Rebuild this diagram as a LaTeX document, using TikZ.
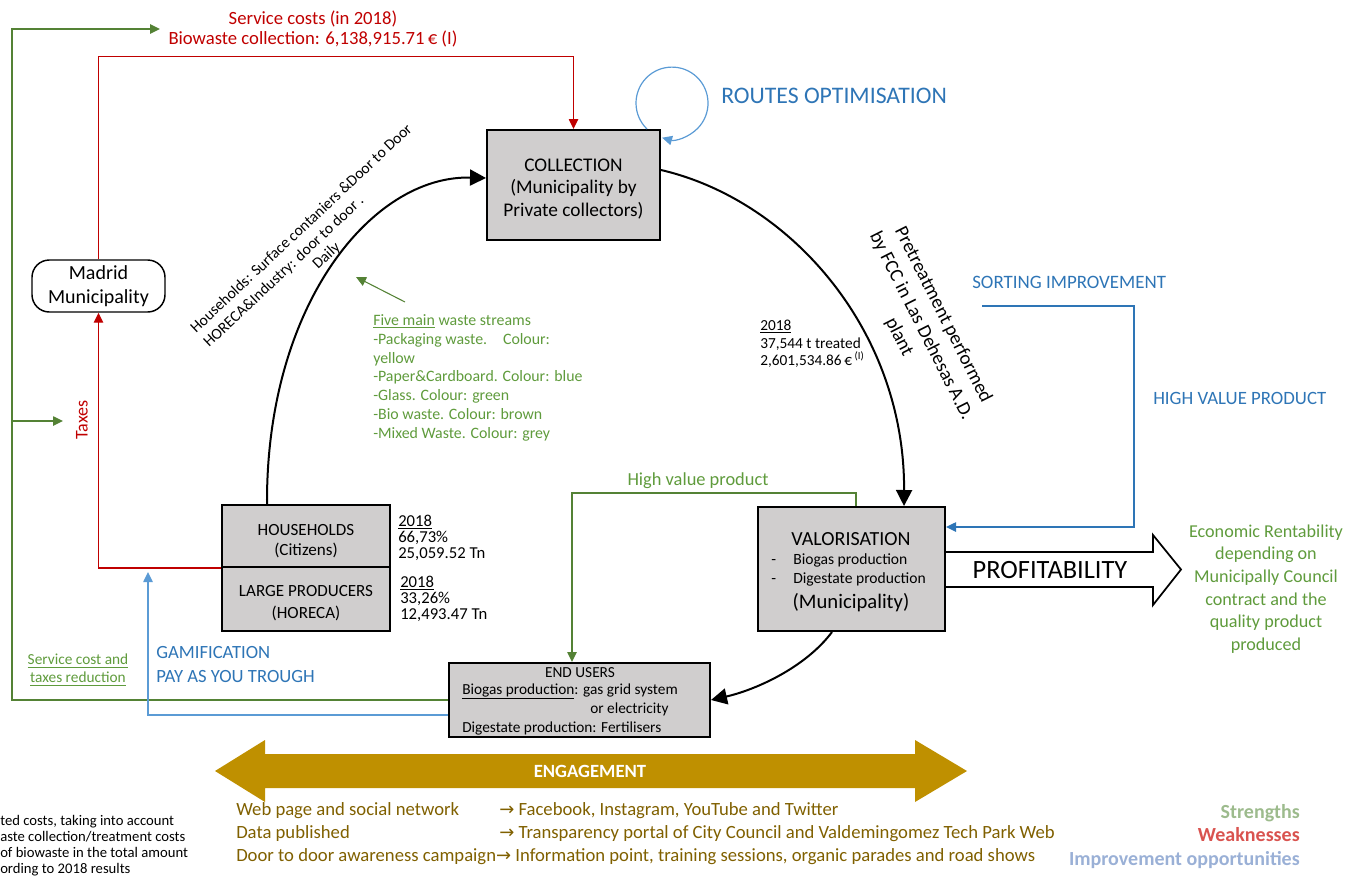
\documentclass[tikz,border=0pt]{standalone}
\usepackage{fontspec}
\setmainfont{Carlito}
\newfontfamily\symf{DejaVu Sans}
\usetikzlibrary{arrows.meta,calc}
\definecolor{boxgray}{HTML}{D0CECE}
\definecolor{redL}{HTML}{C00000}
\definecolor{greenL}{HTML}{548235}
\definecolor{greenT}{HTML}{5F9B3C}
\definecolor{blueT}{HTML}{2E75B6}
\definecolor{blueL}{HTML}{5B9BD5}
\definecolor{goldF}{HTML}{BF9000}
\definecolor{goldT}{HTML}{806000}
\definecolor{legG}{HTML}{9DBB8D}
\definecolor{legR}{HTML}{D9534F}
\definecolor{legB}{HTML}{9AB0D6}
\newcommand\fsz[2]{\fontsize{#1}{#2}\selectfont}
\begin{document}
\begin{tikzpicture}[x=0.75pt,y=-0.75pt,
  box/.style={draw=black, line width=1.5pt, fill=boxgray, inner sep=0pt, align=center},
  bigarr/.style={line width=1.5pt, -{Triangle[length=12pt,width=12pt]}},
  carr/.style={line width=1.1pt, -{Triangle[length=7.5pt,width=7pt]}},
  txt/.style={inner sep=0pt}]
\useasboundingbox (0,0) rectangle (1363,878);

% ---------- boxes ----------
\node[box, minimum width=173*0.75pt, minimum height=110*0.75pt] (coll) at (573.5,185) {};
\node[txt, align=center, font=\fsz{14.5}{17}] (collt) at (573.5,189) {COLLECTION\\(Municipality by\\Private collectors)};
\node[box, minimum width=168*0.75pt, minimum height=62*0.75pt] (hh) at (306,536) {};
\node[txt, align=center, font=\fsz{12.8}{15}] (hht) at (306,541) {HOUSEHOLDS\\(Citizens)};
\node[box, minimum width=168*0.75pt, minimum height=64*0.75pt] (lp) at (306,599) {};
\node[txt, align=center, font=\fsz{12.8}{16}] (lpt) at (306,603) {LARGE PRODUCERS\\(HORECA)};
\node[box, minimum width=187*0.75pt, minimum height=124*0.75pt] (valo) at (851.5,569) {};
\node[box, minimum width=261*0.75pt, minimum height=74*0.75pt] (eu) at (579.5,700) {};
\node[draw=black, line width=1.1pt, rounded corners=13pt, minimum width=133*0.75pt, minimum height=52*0.75pt, align=center, inner sep=0pt, font=\fsz{15}{18}] (mad) at (98.5,286) {Madrid\\Municipality};

% valorisation text
\node[txt, font=\fsz{15}{18}] (vt1) at (851,539) {VALORISATION};
\node[txt, anchor=mid west, font=\fsz{11.7}{14}] (vd1) at (771,561) {-};
\node[txt, anchor=mid west, font=\fsz{11.7}{14}] (vt2) at (793,561) {Biogas production};
\node[txt, anchor=mid west, font=\fsz{11.7}{14}] (vd2) at (771,580) {-};
\node[txt, anchor=mid west, font=\fsz{11.7}{14}] (vt3) at (793,580) {Digestate production};
\node[txt, font=\fsz{15.5}{18}] (vt4) at (851,603) {(Municipality)};

% end users text
\node[txt, font=\fsz{11.5}{14}] (e1) at (580,673) {END USERS};
\node[txt, anchor=mid west, font=\fsz{11.5}{14}] (e2) at (462,691) {\underline{Biogas production}: gas grid system};
\node[txt, anchor=mid west, font=\fsz{11.5}{14}] (e3) at (590,710) {or electricity};
\node[txt, anchor=mid west, font=\fsz{11.5}{14}] (e4) at (462,729) {Digestate production: Fertilisers};

% 2018 figures
\node[txt, anchor=north west, align=left, font=\fsz{12.5}{12}] (f1) at (398,515) {\underline{2018}\\66,73\%\\25,059.52 Tn};
\node[txt, anchor=north west, align=left, font=\fsz{12.5}{12}] (f2) at (400,576) {\underline{2018}\\33,26\%\\12,493.47 Tn};
\node[txt, anchor=north west, align=left, font=\fsz{11.5}{13}] (f3) at (760,320) {\underline{2018}\\37,544 t treated\\2,601,534.86\,€\,\textsuperscript{(I)}};

% ---------- main cycle ----------
\draw[bigarr] ($(hh.north west)+(46,0)$) .. controls (266,305) and (372,175) .. ($(coll.west)+(0,-7)$);
\draw[bigarr] ($(coll.east)+(0,-15)$) .. controls (790,200) and (905,330) .. ($(valo.north west)+(147,0)$);
\draw[bigarr] ($(valo.south west)+(75,0)$) .. controls (805,668) and (755,690) .. (eu.east);

% routes optimisation loop
\draw[blueL, carr, line width=0.9pt] ($(coll.north west)+(161,0)$) arc[start angle=134, end angle=466, radius=36];
\node[txt, anchor=mid west, text=blueT, font=\fsz{17.8}{20}] (ro) at (721,100) {ROUTES OPTIMISATION};

% red money flows
\draw[redL, carr] (hh.south west) -| (mad.south);
\draw[redL, carr] (mad.north) -- ++(0,-203) -| (coll.north);
\node[txt, text=redL, align=center, font=\fsz{14}{14.3}] (sc) at (313,29) {Service costs (in 2018)\\Biowaste collection: 6,138,915.71\,€ (I)};
\node[txt, text=redL, rotate=90, font=\fsz{13.5}{16}] (tax) at (82,420) {Taxes};

% green outer loop
\coordinate (gTop) at (160,29);
\coordinate (gTax) at (63,421);
\coordinate (gCorner) at (12,421);
\draw[greenL, carr] (eu.west) -| (gCorner) |- (gTop);
\draw[greenL, carr] (gCorner) -- (gTax);
\node[txt, text=greenT, align=center, font=\fsz{11.5}{13.5}] (scr) at (78,670) {\underline{Service cost and}\\\underline{taxes reduction}};

% blue gamification
\coordinate (bUp) at (148,572);
\draw[blueL, carr] ($(eu.west)+(0,15)$) -| (bUp);
\node[txt, anchor=mid west, text=blueT, font=\fsz{14}{16}] (g1) at (156,655) {GAMIFICATION};
\node[txt, anchor=mid west, text=blueT, font=\fsz{14}{16}] (g2) at (156,679) {PAY AS YOU TROUGH};

% high value product (green)
\draw[greenL, carr] ($(valo.north west)+(99,0)$) -- ++(0,-13) -| ($(eu.north west)+(124,0)$);
\node[txt, text=greenT, font=\fsz{13.8}{16}] (hvp) at (698,481) {High value product};

% sorting improvement (blue)
\coordinate (si) at (982,306);
\draw[blueT, carr] (si) -- ++(152,0) |- ($(valo.east)+(0,-42)$);
\node[txt, anchor=mid west, text=blueT, font=\fsz{14.2}{16}] (sit) at (972,285) {SORTING IMPROVEMENT};
\node[txt, anchor=mid west, text=blueT, font=\fsz{14.1}{16}] (hvpt) at (1153,401) {HIGH VALUE PRODUCT};

% rotated labels
\node[txt, rotate=43.2, anchor=base west, font=\fsz{11.7}{14}] (r1) at (196,334) {Households: Surface contaniers \&Door to Door};
\node[txt, rotate=43.2, anchor=base west, font=\fsz{11.7}{14}] (r2) at (209,348) {HORECA\&Industry: door to door .};
\node[txt, rotate=43.2, anchor=base west, font=\fsz{11.7}{14}] (r3) at (318,270) {Daily};
\node[txt, rotate=-63.2, align=center, font=\fsz{14.5}{18.5}] (pt) at (921,326) {Pretreatment performed\\by FCC in Las Dehesas A.D.\\plant};

% five main waste streams
\coordinate (fmA) at (405,302);
\coordinate (fmB) at (356,277);
\draw[greenL, line width=0.8pt, -{Triangle[length=7.5pt,width=7pt]}] (fmA) -- (fmB);
\node[txt, anchor=north west, align=left, text=greenT, font=\fsz{11.9}{14.2}] (fm) at (373,314) {\underline{Five main} waste streams\\-Packaging waste.\quad Colour:\\yellow\\-Paper\&Cardboard. Colour: blue\\-Glass. Colour: green\\-Bio waste. Colour: brown\\-Mixed Waste. Colour: grey};

% profitability
\draw[line width=1.3pt, fill=white] (valo.east |- 0,552) -- (1153,552) -- (1153,535) -- (1181,569.5) -- (1153,605) -- (1153,587) -- (valo.east |- 0,587);
\node[txt, font=\fsz{19.8}{22}] (prof) at (1050,570) {PROFITABILITY};
\node[txt, align=center, text=greenT, font=\fsz{13.6}{17}] (eco) at (1266,589) {Economic Rentability\\depending on\\Municipally Council\\contract and the\\quality product\\produced};

% engagement arrow
\fill[goldF] (215,771) -- (265,740) -- (265,754) -- (915,754) -- (915,740) -- (967,771) -- (915,802) -- (915,788) -- (265,788) -- (265,802) -- cycle;
\node[txt, text=white, font=\bfseries\fsz{14}{16}] (eng) at (590,771) {ENGAGEMENT};

\node[txt, anchor=mid west, text=goldT, font=\fsz{14}{16}] (b1) at (236,812) {Web page and social network};
\node[txt, anchor=mid west, text=goldT, font=\fsz{14}{16}] (b2) at (236,835) {Data published};
\node[txt, anchor=mid west, text=goldT, font=\fsz{14}{16}] (b3) at (236,858) {Door to door awareness campaign{\symf\fsz{13.5}{14}→} Information point, training sessions, organic parades and road shows};
\node[txt, anchor=mid west, text=goldT, font=\fsz{14}{16}] (b4) at (499,812) {{\symf\fsz{13.5}{14}→} Facebook, Instagram, YouTube and Twitter};
\node[txt, anchor=mid west, text=goldT, font=\fsz{14}{16}] (b5) at (499,835) {{\symf\fsz{13.5}{14}→} Transparency portal of City Council and Valdemingomez Tech Park Web};

% footnote (cut)
\node[txt, anchor=north west, align=left, font=\fsz{11}{12}] (fn) at (0,815) {ted costs, taking into account\\aste collection/treatment costs\\of biowaste in the total amount\\ording to 2018 results};

% legend
\node[txt, anchor=mid east, text=legG, font=\bfseries\fsz{15}{16}] (l1) at (1300,815) {Strengths};
\node[txt, anchor=mid east, text=legR, font=\bfseries\fsz{15}{16}] (l2) at (1300,838) {Weaknesses};
\node[txt, anchor=mid east, text=legB, font=\bfseries\fsz{15}{16}] (l3) at (1300,862) {Improvement opportunities};
\end{tikzpicture}
\end{document}
